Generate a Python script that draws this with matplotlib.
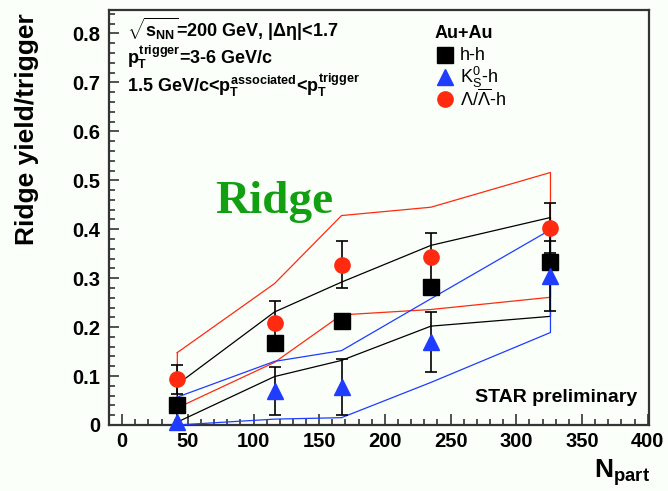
import numpy as np
import matplotlib
matplotlib.use('Agg')
import matplotlib.pyplot as plt
from matplotlib.ticker import MultipleLocator

# bold sans for math text (ROOT Helvetica look), regular sans through \mathsf
plt.rcParams['font.family'] = 'Liberation Sans'
plt.rcParams['mathtext.fontset'] = 'custom'
plt.rcParams['mathtext.rm'] = 'Liberation Sans:bold'
plt.rcParams['mathtext.it'] = 'Liberation Sans:bold'
plt.rcParams['mathtext.bf'] = 'Liberation Sans:bold'
plt.rcParams['mathtext.sf'] = 'Liberation Sans'

# ---- data
npart = [42, 116, 167, 235, 326]

hh = [0.041, 0.167, 0.212, 0.283, 0.333]
hh_err = [0.012, 0.012, 0.012, 0.012, 0.012]
hh_sys_hi = [0.083, 0.231, 0.292, 0.367, 0.424]
hh_sys_lo = [0.006, 0.099, 0.132, 0.202, 0.222]

k0 = [0.006, 0.070, 0.077, 0.169, 0.304]
k0_err = [0.03, 0.049, 0.057, 0.061, 0.072]
k0_sys_hi = [0.057, 0.130, 0.152, 0.258, 0.399]
k0_sys_lo = [-0.04, 0.012, 0.015, 0.087, 0.189]

lam = [0.093, 0.209, 0.327, 0.343, 0.403]
lam_err = [0.03, 0.045, 0.048, 0.049, 0.051]
lam_sys_hi = [0.148, 0.289, 0.428, 0.445, 0.516]
lam_sys_lo = [0.035, 0.128, 0.225, 0.236, 0.261]

red = '#ff2a10'
blue = '#1f3cff'
green = '#12a012'
bg = '#fafffa'

fig = plt.figure(figsize=(6.68, 4.91), dpi=100, facecolor=bg)
ax = fig.add_axes([109/668., 1-425/491., 540/668., 415/491.], facecolor=bg)

x = np.array(npart)

# systematic bands, drawn as closed outlines (clamped at the frame like ROOT)
for hi, lo, c in [(lam_sys_hi, lam_sys_lo, red),
                  (hh_sys_hi, hh_sys_lo, 'k'),
                  (k0_sys_hi, k0_sys_lo, blue)]:
    bx = np.concatenate([x, x[::-1], x[:1]])
    by = np.concatenate([hi, lo[::-1], hi[:1]])
    by = np.maximum(by, 0.0)
    ax.plot(bx, by, '-', color=c, lw=0.9, zorder=3)

# statistical errors
for y, e in [(lam, lam_err), (hh, hh_err), (k0, k0_err)]:
    ax.errorbar(x, y, yerr=e, fmt='none', ecolor='k', elinewidth=1.2,
                capsize=4.5, capthick=1.2, zorder=4)

ax.plot(x, lam, 'o', color=red, ms=11, mec=red, zorder=5, clip_on=False)
ax.plot(x, hh, 's', color='k', ms=11, zorder=5, clip_on=False)
ax.plot(x, k0, '^', color=blue, ms=12, mec=blue, zorder=5, clip_on=False)

ax.set_xlim(-10, 401)
ax.set_ylim(0, 0.848)

ax.xaxis.set_major_locator(MultipleLocator(50))
ax.xaxis.set_minor_locator(MultipleLocator(10))
ax.yaxis.set_major_locator(MultipleLocator(0.1))
ax.yaxis.set_minor_locator(MultipleLocator(0.02))
ax.tick_params(which='both', direction='in', top=False, right=False,
               width=1.1, color='#222222')
ax.tick_params(which='major', length=8, labelsize=14.5, pad=5)
ax.tick_params(which='minor', length=4)
ax.tick_params(axis='y', which='major', length=7, pad=6.5)
for lab in ax.get_xticklabels() + ax.get_yticklabels():
    lab.set_fontweight('bold')
ax.yaxis.set_major_formatter(plt.FuncFormatter(lambda v, p: '0' if v == 0 else '%.1f' % v))
for s in ax.spines.values():
    s.set_linewidth(1.6)
    s.set_color('#333333')

# axis titles
fig.text(27/668., 1-13/491., 'Ridge yield/trigger', rotation=90, ha='center',
         va='top', fontsize=19, fontweight='bold')
fig.text(594/668., 1-478/491., r'N$_{part}$', ha='left', va='baseline',
         fontsize=19, fontweight='bold')

# labels inside the frame
fig.text(127/668., 1-37/491., r'$\sqrt{s_{NN}}$=200 GeV, $|\Delta\eta|$<1.7',
         fontsize=13, fontweight='bold', va='baseline')
fig.text(127/668., 1-64/491., r'$p_{T}^{trigger}$=3-6 GeV/c',
         fontsize=13, fontweight='bold', va='baseline')
fig.text(127/668., 1-92/491., r'1.5 GeV/c<$p_{T}^{associated}$<$p_{T}^{trigger}$',
         fontsize=13, fontweight='bold', va='baseline')

fig.text(215/668., 1-213/491., 'Ridge', color=green, fontsize=34,
         fontweight='bold', family='Liberation Serif', va='baseline')
fig.text(637/668., 1-397/491., 'STAR preliminary', fontsize=14,
         fontweight='bold', ha='right', va='center')

# legend
fig.text(435/668., 1-38/491., 'Au+Au', fontsize=13, fontweight='bold', va='baseline')
leg_marks = [('s', 'k', 11, r'h-h'),
             ('^', blue, 12, r'K$_{\mathsf{S}}^{\mathsf{0}}$-h'),
             ('o', red, 11, r'$\mathsf{\Lambda/\overline{\Lambda}}$-h')]
for i, (m, c, sz, txt) in enumerate(leg_marks):
    yy = 1 - (55 + 22*i)/491.
    fig.add_artist(plt.Line2D([445/668.], [yy], marker=m, color=c, mec=c, ms=sz,
                              transform=fig.transFigure))
    fig.text(460/668., yy, txt, fontsize=13, va='center')

savefig_name = 'out.png'
fig.savefig(savefig_name, dpi=100, facecolor=bg)
